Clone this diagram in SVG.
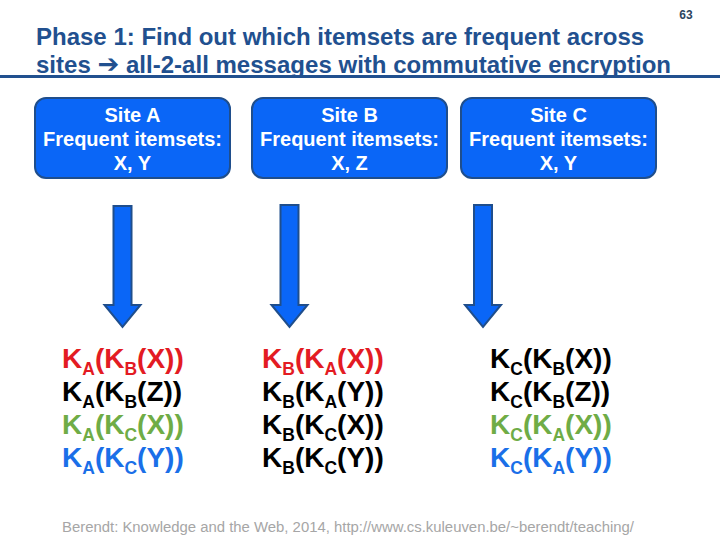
<svg xmlns="http://www.w3.org/2000/svg" width="720" height="540" viewBox="0 0 720 540">
<style>
.title{font-family:"Liberation Sans",Arial,sans-serif;font-weight:bold;font-size:24px;fill:#21508F}
.ar{font-family:"DejaVu Sans",sans-serif;font-weight:bold;font-size:26px}
.pg{font-family:"Liberation Sans",Arial,sans-serif;font-weight:bold;font-size:12px;fill:#2B4560}
.box{fill:#0A66F7;stroke:#1F4E8C;stroke-width:2}
.bt{font-family:"Liberation Sans",Arial,sans-serif;font-weight:bold;font-size:20px;fill:#FFFFFF;text-anchor:middle}
.arr{fill:#0A66F7;stroke:#1F4E8C;stroke-width:2;stroke-linejoin:miter}
.k{font-family:"Liberation Sans",Arial,sans-serif;font-weight:bold;font-size:28px}
.s{font-size:17.5px}
.red{fill:#E31B23}
.blk{fill:#000000}
.grn{fill:#6FAC46}
.blu{fill:#1A6FE8}
.foot{font-family:"Liberation Sans",Arial,sans-serif;font-size:14px;fill:#A6A6A6}
</style>
<rect width="720" height="540" fill="#FFFFFF"/>
<text class="pg" x="686" y="18.5" text-anchor="middle">63</text>
<text class="title" x="36" y="45">Phase 1: Find out which itemsets are frequent across</text>
<text class="title" x="36" y="73" textLength="635" lengthAdjust="spacing">sites <tspan class="ar">➔</tspan> all-2-all messages with commutative encryption</text>
<line x1="0" y1="76.5" x2="720" y2="76.5" stroke="#21508F" stroke-width="3"/>

<g id="siteA">
<rect class="box" x="35" y="98" width="195" height="80" rx="11"/>
<text class="bt" x="132.5" y="122">Site A</text>
<text class="bt" x="132.5" y="146">Frequent itemsets:</text>
<text class="bt" x="132.5" y="170">X, Y</text>
</g>
<g id="siteB">
<rect class="box" x="252" y="98" width="195" height="80" rx="11"/>
<text class="bt" x="349.5" y="122">Site B</text>
<text class="bt" x="349.5" y="146">Frequent itemsets:</text>
<text class="bt" x="349.5" y="170">X, Z</text>
</g>
<g id="siteC">
<rect class="box" x="461" y="98" width="195" height="80" rx="11"/>
<text class="bt" x="558.5" y="122">Site C</text>
<text class="bt" x="558.5" y="146">Frequent itemsets:</text>
<text class="bt" x="558.5" y="170">X, Y</text>
</g>

<g id="connectors">
<polygon class="arr" points="113.5,206 131.5,206 131.5,305 140.5,305 122.5,327 104.5,305 113.5,305"/>
<polygon class="arr" points="280.5,205 298.5,205 298.5,305 307.5,305 289.5,327 271.5,305 280.5,305"/>
<polygon class="arr" points="474,205 492,205 492,305 501,305 483,327 465,305 474,305"/>
</g>

<g id="listA">
<text class="k red" x="62" y="368">K<tspan class="s" dy="7">A</tspan><tspan dy="-7">(K</tspan><tspan class="s" dy="7">B</tspan><tspan dy="-7">(X))</tspan></text>
<text class="k blk" x="62" y="401">K<tspan class="s" dy="7">A</tspan><tspan dy="-7">(K</tspan><tspan class="s" dy="7">B</tspan><tspan dy="-7">(Z))</tspan></text>
<text class="k grn" x="62" y="434">K<tspan class="s" dy="7">A</tspan><tspan dy="-7">(K</tspan><tspan class="s" dy="7">C</tspan><tspan dy="-7">(X))</tspan></text>
<text class="k blu" x="62" y="467">K<tspan class="s" dy="7">A</tspan><tspan dy="-7">(K</tspan><tspan class="s" dy="7">C</tspan><tspan dy="-7">(Y))</tspan></text>
</g>
<g id="listB">
<text class="k red" x="262" y="368">K<tspan class="s" dy="7">B</tspan><tspan dy="-7">(K</tspan><tspan class="s" dy="7">A</tspan><tspan dy="-7">(X))</tspan></text>
<text class="k blk" x="262" y="401">K<tspan class="s" dy="7">B</tspan><tspan dy="-7">(K</tspan><tspan class="s" dy="7">A</tspan><tspan dy="-7">(Y))</tspan></text>
<text class="k blk" x="262" y="434">K<tspan class="s" dy="7">B</tspan><tspan dy="-7">(K</tspan><tspan class="s" dy="7">C</tspan><tspan dy="-7">(X))</tspan></text>
<text class="k blk" x="262" y="467">K<tspan class="s" dy="7">B</tspan><tspan dy="-7">(K</tspan><tspan class="s" dy="7">C</tspan><tspan dy="-7">(Y))</tspan></text>
</g>
<g id="listC">
<text class="k blk" x="490" y="368">K<tspan class="s" dy="7">C</tspan><tspan dy="-7">(K</tspan><tspan class="s" dy="7">B</tspan><tspan dy="-7">(X))</tspan></text>
<text class="k blk" x="490" y="401">K<tspan class="s" dy="7">C</tspan><tspan dy="-7">(K</tspan><tspan class="s" dy="7">B</tspan><tspan dy="-7">(Z))</tspan></text>
<text class="k grn" x="490" y="434">K<tspan class="s" dy="7">C</tspan><tspan dy="-7">(K</tspan><tspan class="s" dy="7">A</tspan><tspan dy="-7">(X))</tspan></text>
<text class="k blu" x="490" y="467">K<tspan class="s" dy="7">C</tspan><tspan dy="-7">(K</tspan><tspan class="s" dy="7">A</tspan><tspan dy="-7">(Y))</tspan></text>
</g>

<text class="foot" x="62" y="532" textLength="572" lengthAdjust="spacingAndGlyphs">Berendt: Knowledge and the Web, 2014, http://www.cs.kuleuven.be/~berendt/teaching/</text>
</svg>
